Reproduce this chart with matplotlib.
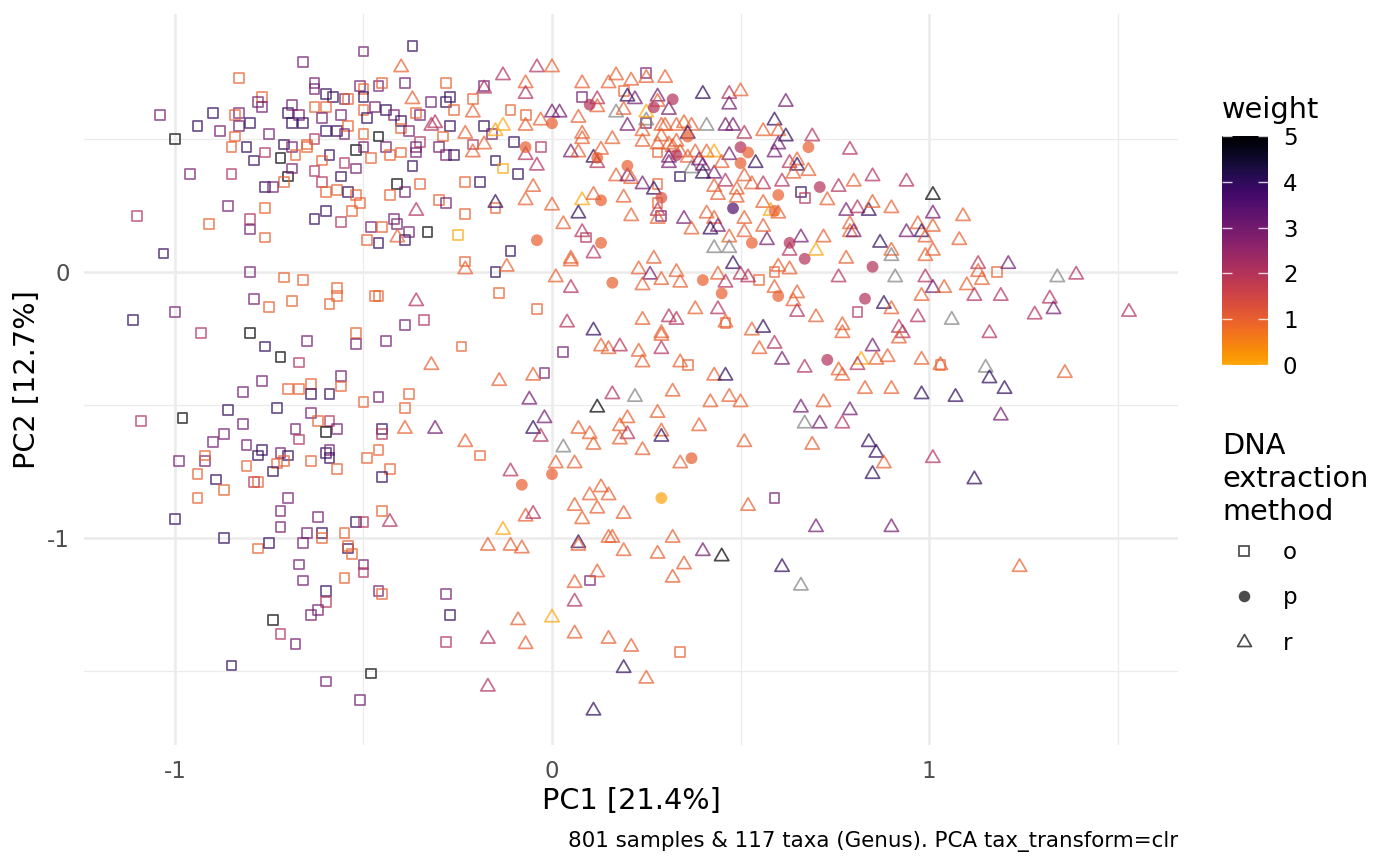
import numpy as np
import matplotlib
matplotlib.use("Agg")
import matplotlib.pyplot as plt
from matplotlib.colors import ListedColormap, Normalize
from matplotlib.cm import ScalarMappable
from matplotlib.path import Path
from matplotlib.lines import Line2D

nan = np.nan

# DNA extraction method "o" (open squares)
sq_pc1 = [
    -0.50, -0.37, -0.66, -0.83, -0.77, -0.78, -0.77, -1.04, -0.90, -0.94,
    -0.88, -0.83, -0.84, -0.83, -0.80, -0.84, -0.85, -0.81, -0.79, -0.75,
    -0.76, -0.72, -0.70, -0.71, -0.76, -0.74, -0.69, -0.69, -0.70, -0.69,
    -0.67, -0.66, -0.63, -0.63, -0.63, -0.60, -0.58, -0.55, -0.54, -0.60,
    -0.56, -0.61, -0.60, -0.57, -0.54, -0.55, -0.63, -0.65, -0.71, -0.69,
    -0.68, -0.65, -0.59, -0.61, -0.55, -0.56, -0.57, -0.54, -0.52, -0.51,
    -0.53, -0.52, -0.50, -0.48, -0.52, -0.63, -0.61, -0.60, -0.60, -0.63,
    -0.56, -0.50, -0.51, -0.50, -0.50, -0.46, -0.45, -0.50, -0.49, -0.47,
    -0.44, -0.42, -0.40, -0.39, -0.35, -0.36, -0.40, -0.38, -0.35, -0.46,
    -0.44, -0.43, -0.40, -0.37, -0.36, -0.36, -0.41, -0.39, -0.35, -0.43,
    -0.42, -0.41, -0.48, -0.45, -0.46, -0.49, -0.39, -0.38, -0.33, -0.76,
    -0.80, -0.80, -0.76, -0.86, -0.91, -0.96, -0.85, -1.10, -1.03, -1.00,
    -0.28, -0.18, -0.21, -0.27, -0.28, -0.32, -0.26, -0.11, -0.07, -0.27,
    -0.18, -0.16, -0.29, -0.21, -0.10, -0.03, -0.30, -0.28, -0.26, -0.15,
    -0.13, -0.09, -0.23, -0.19, -0.30, -0.28, -0.23, -0.15, -0.25, -0.11,
    -0.23, 0.25, 0.19, 0.08, 0.25, 0.28, 0.34, 0.28, 0.28, 0.29,
    0.09, 0.66, 0.67, -0.80, -0.71, -0.66, -0.57, -0.57, -0.59, -0.46,
    -0.47, -0.79, -0.75, -0.69, -1.11, -1.00, -0.93, -0.80, -0.76, -0.72,
    -0.67, -0.65, -0.52, -0.52, -0.44, -0.39, -0.34, -0.82, -0.77, -0.70,
    -0.67, -0.64, -0.64, -0.59, -0.56, -0.56, -0.50, -0.46, -0.38, -0.39,
    -1.09, -0.98, -0.86, -0.82, -0.73, -0.64, -0.62, -0.59, -0.60, -0.57,
    -0.68, -0.67, -0.87, -0.90, -0.45, -0.45, -0.81, -0.78, -0.77, -0.72,
    -0.70, -0.71, -0.73, -0.74, -0.81, -0.79, -0.78, -0.60, -0.59, -0.59,
    -0.57, -0.64, -0.49, -0.46, -0.43, -0.45, -0.99, -0.92, -0.92, -0.94,
    -0.89, -0.87, -0.94, -0.70, -1.00, -0.87, -0.78, -0.75, -0.72, -0.72,
    -0.66, -0.65, -0.62, -0.61, -0.61, -0.55, -0.54, -0.54, -0.53, -0.52,
    -0.50, -0.45, -0.67, -0.66, -0.60, -0.55, -0.50, -0.50, -0.46, -0.45,
    -0.60, -0.62, -0.64, -0.74, -0.72, -0.68, -0.85, -0.48, -0.60, -0.51,
    -0.15, -0.14, -0.04, -0.24, 0.03, -0.02, -0.19, 0.46, 0.36, 0.55,
    0.59, 0.59, 0.81, 1.18, 1.03, 0.10, 0.34, -0.28, -0.27, -0.28,
]
sq_pc2 = [
    0.83, 0.85, 0.79, 0.73, 0.66, 0.64, 0.62, 0.59, 0.60, 0.55,
    0.53, 0.60, 0.59, 0.55, 0.56, 0.51, 0.47, 0.47, 0.42, 0.52,
    0.45, 0.43, 0.36, 0.34, 0.32, 0.32, 0.39, 0.56, 0.60, 0.63,
    0.59, 0.56, 0.62, 0.71, 0.69, 0.67, 0.66, 0.65, 0.65, 0.62,
    0.59, 0.58, 0.53, 0.53, 0.55, 0.52, 0.50, 0.48, 0.48, 0.47,
    0.44, 0.47, 0.44, 0.42, 0.41, 0.36, 0.31, 0.30, 0.29, 0.26,
    0.23, 0.46, 0.47, 0.43, 0.39, 0.38, 0.34, 0.30, 0.23, 0.20,
    0.19, 0.52, 0.70, 0.69, 0.66, 0.70, 0.71, 0.61, 0.58, 0.62,
    0.61, 0.59, 0.57, 0.71, 0.59, 0.60, 0.54, 0.53, 0.49, 0.51,
    0.47, 0.44, 0.45, 0.40, 0.45, 0.47, 0.33, 0.30, 0.33, 0.29,
    0.20, 0.18, 0.17, 0.17, 0.11, 0.12, 0.12, 0.15, 0.15, 0.24,
    0.20, 0.16, 0.13, 0.25, 0.18, 0.37, 0.37, 0.21, 0.07, 0.50,
    0.71, 0.70, 0.65, 0.66, 0.64, 0.64, 0.61, 0.61, 0.59, 0.55,
    0.55, 0.52, 0.51, 0.48, 0.49, 0.47, 0.47, 0.44, 0.44, 0.42,
    0.39, 0.37, 0.34, 0.34, 0.27, 0.26, 0.22, 0.24, 0.14, 0.08,
    0.04, 0.75, 0.68, 0.66, 0.56, 0.45, 0.36, 0.33, 0.26, 0.21,
    0.13, 0.30, 0.28, 0.00, -0.02, -0.03, -0.06, -0.09, -0.12, -0.09,
    -0.09, -0.10, -0.13, -0.11, -0.18, -0.15, -0.23, -0.23, -0.28, -0.32,
    -0.34, -0.26, -0.23, -0.27, -0.26, -0.20, -0.18, -0.45, -0.41, -0.44,
    -0.44, -0.42, -0.46, -0.46, -0.39, -0.43, -0.49, -0.47, -0.46, -0.51,
    -0.56, -0.55, -0.52, -0.57, -0.51, -0.53, -0.56, -0.56, -0.60, -0.59,
    -0.59, -0.63, -0.61, -0.64, -0.59, -0.61, -0.65, -0.69, -0.67, -0.68,
    -0.69, -0.71, -0.72, -0.75, -0.73, -0.79, -0.79, -0.68, -0.67, -0.70,
    -0.74, -0.71, -0.70, -0.67, -0.74, -0.77, -0.71, -0.71, -0.69, -0.76,
    -0.78, -0.82, -0.85, -0.85, -0.93, -1.00, -1.04, -1.02, -0.90, -0.96,
    -1.02, -0.98, -0.92, -0.98, -1.00, -0.98, -1.04, -1.03, -1.06, -0.94,
    -0.94, -0.90, -1.10, -1.16, -1.20, -1.15, -1.10, -1.13, -1.20, -1.21,
    -1.24, -1.27, -1.29, -1.31, -1.36, -1.40, -1.48, -1.51, -1.54, -1.61,
    0.00, -0.08, -0.14, -0.28, -0.30, -0.38, -0.69, -0.19, -0.35, -0.03,
    0.00, -0.85, -0.15, 0.00, -0.35, -1.16, -1.43, -1.21, -1.29, -1.39,
]
sq_weight = [
    3, 4, 3, 1, 1, 3, 3, 3, 4, 4,
    3, 3, 1, 3, 4, 1, 1, 4, 4, 3,
    2, 5, 5, 1, 4, 3, 3, 4, 4, 3,
    3, 4, 1, 3, 3, 4, 4, 3, 1, 1,
    3, 3, 4, 4, 1, 3, 2, 1, 4, 3,
    1, 1, 4, 1, 2, 4, 1, 4, 1, 1,
    1, 5, 3, 1, 3, 2, 2, 1, 4, 4,
    2, 1, 3, 1, 4, 3, 1, 1, 4, 3,
    4, 3, 4, 3, 3, 1, 1, 3, 2, 5,
    3, 1, 1, 4, 3, 3, 5, 3, 1, 1,
    3, 3, 3, 1, 4, 1, 4, 3, 5, 1,
    2, 3, 1, 3, 1, 3, 2, 2, 4, 5,
    1, 3, 1, 4, 4, 3, 1, 1, 1, 4,
    4, 3, 1, 2, 4, 2, 3, 3, 4, 4,
    0, 4, 1, 4, 1, 3, 1, 1, 0, 4,
    1, 3, 1, 3, 3, 1, 4, 1, 1, 3,
    2, 4, 2, 3, 1, 1, 1, 1, 1, 1,
    1, 3, 1, 1, 4, 3, 2, 5, 4, 5,
    2, 3, 1, 3, 3, 3, 2, 3, 3, 1,
    1, 1, 4, 4, 3, 1, 1, 3, 1, 1,
    2, 5, 4, 3, 4, 3, 1, 2, 5, 3,
    3, 2, 3, 3, 4, 2, 3, 4, 4, 3,
    4, 1, 1, 4, 1, 2, 1, 4, 3, 4,
    1, 1, 1, 1, 1, 4, 3, 3, 1, 1,
    4, 1, 1, 3, 4, 4, 1, 4, 3, 3,
    3, 3, 3, 4, 1, 1, 4, 1, 1, 4,
    2, 1, 3, 3, 4, 1, 3, 2, 3, 1,
    2, 3, 3, 5, 2, 3, 4, 5, 3, 3,
    4, 1, 1, 1, 3, 3, 1, 1, 1, 1,
    1, 3, 2, 1, 1, 3, 1, 3, 4, 2,
]

# DNA extraction method "p" (filled circles)
ci_pc1 = [
    0.00, 0.10, -0.07, -0.04, 0.13, 0.13, 0.20, 0.27, 0.32, 0.29,
    0.36, 0.33, 0.48, 0.50, 0.50, 0.52, 0.60, 0.59, 0.53, 0.63,
    0.67, 0.16, 0.40, 0.45, 0.60, 0.37, 0.00, -0.08, 0.29, 0.85,
    0.83, 0.73, 0.68, 0.71, 0.12,
]
ci_pc2 = [
    0.56, 0.63, 0.47, 0.12, 0.11, 0.27, 0.40, 0.62, 0.65, 0.28,
    0.51, 0.44, 0.24, 0.41, 0.47, 0.45, 0.29, 0.23, 0.11, 0.11,
    0.05, -0.04, -0.03, -0.08, -0.09, -0.70, -0.76, -0.80, -0.85, 0.02,
    -0.10, -0.33, 0.47, 0.32, 0.43,
]
ci_weight = [
    1, 2, 1, 1, 1, 1, 1, 2, 2, 1.3,
    1, 2, 3.5, 1, 2, 1, 1, 1, 1, 2,
    2, 1, 1, 1, 1, 1, 1, 1, 0, 2,
    2, 2, 1, 2, 1,
]

# DNA extraction method "r" (open triangles)
tr_pc1 = [
    -0.40, -0.37, -0.32, -0.36, -0.41, -0.13, -0.04, 0.00, -0.07, -0.07,
    -0.18, -0.21, -0.31, -0.23, -0.18, -0.21, -0.13, -0.15, -0.07, -0.07,
    -0.04, -0.05, -0.07, 0.00, -0.15, -0.03, 0.00, 0.02, 0.07, 0.08,
    0.08, 0.16, 0.05, 0.07, 0.11, 0.13, 0.12, 0.17, 0.20, 0.21,
    0.24, 0.27, 0.19, 0.08, 0.11, 0.07, 0.03, 0.08, 0.11, 0.05,
    0.21, 0.28, 0.28, 0.27, 0.08, 0.15, 0.17, 0.21, 0.25, 0.30,
    0.20, 0.22, 0.19, 0.17, 0.12, 0.12, 0.28, 0.28, 0.31, 0.25,
    0.25, 0.20, 0.24, 0.29, 0.30, 0.33, 0.29, 0.24, 0.28, 0.31,
    0.33, 0.32, 0.35, 0.37, 0.41, 0.46, 0.48, 0.36, 0.38, 0.36,
    0.34, 0.31, 0.31, 0.37, 0.39, 0.40, 0.43, 0.40, 0.41, 0.43,
    0.47, 0.45, 0.51, 0.54, 0.56, 0.59, 0.60, 0.62, 0.60, 0.59,
    0.63, 0.65, 0.65, 0.64, 0.61, 0.56, 0.53, 0.51, 0.46, 0.43,
    0.49, 0.44, 0.49, 0.56, 0.58, 0.60, 0.51, 0.56, 0.51, 0.47,
    0.43, 0.41, 0.35, 0.37, 0.44, 0.42, 0.43, 0.47, 0.57, 0.63,
    0.66, 0.40, 0.47, 0.50, 0.47, 0.62, 0.48, 0.69, 0.79, 0.68,
    0.76, 0.80, 0.85, 0.94, 1.01, 1.09, 1.08, 0.73, 0.78, 0.81,
    0.84, 0.85, 0.90, 1.01, 0.97, 0.94, 0.98, 1.01, 0.99, 0.79,
    0.79, 0.80, 0.72, 0.70, 0.87, 0.90, 0.90, 0.99, 1.01, 0.78,
    1.13, 1.21, -0.23, -0.12, 0.05, 0.01, 0.05, 0.23, 0.26, 0.24,
    0.29, 0.33, 0.34, 0.44, 0.46, 0.50, 0.52, 0.60, 0.63, 0.59,
    0.65, 0.64, 0.65, 0.04, 0.11, 0.13, 0.15, 0.18, 0.24, 0.31,
    0.33, 0.29, 0.29, 0.29, 0.23, 0.24, 0.38, 0.44, 0.46, 0.53,
    0.56, 0.55, 0.59, 0.61, 0.67, 0.34, 0.43, 0.46, 0.32, 0.47,
    0.42, 0.50, 0.66, 0.67, -0.32, -0.14, -0.05, -0.06, -0.31, -0.02,
    -0.05, -0.03, -0.23, -0.11, 0.03, 0.01, 0.06, 0.12, 0.16, 0.22,
    0.20, 0.18, 0.20, 0.18, 0.07, 0.10, 0.11, 0.28, 0.29, 0.29,
    0.24, 0.39, 0.51, 0.34, 0.10, 0.13, 0.15, -0.36, -0.39, 0.76,
    0.91, 0.99, 1.01, 1.04, 1.10, 1.13, 1.14, 1.34, 1.39, 0.98,
    0.97, 0.88, 0.90, 1.12, 1.19, 1.32, 1.33, 1.28, 1.53, 1.06,
    1.16, 0.70, 0.77, 0.77, 0.92, 0.93, 0.92, 0.85, 0.82, 0.86,
    0.89, 0.81, 0.76, 0.77, 0.98, 1.03, 1.15, 1.16, 1.20, 1.36,
    0.83, 0.90, 0.98, 1.07, 0.72, 0.79, 0.71, 0.77, 1.19, 0.69,
    0.84, 0.86, 0.88, 0.85, 1.01, 1.12, 0.06, 0.12, 0.08, 0.19,
    -0.07, -0.05, -0.13, -0.17, -0.11, -0.08, 0.07, 0.07, 0.15, 0.16,
    0.19, 0.28, 0.32, 0.35, 0.32, 0.40, 0.45, 0.52, 0.61, 0.66,
    0.12, 0.06, 0.06, 0.00, -0.09, -0.17, -0.07, 0.06, 0.15, 0.21,
    0.19, 0.25, -0.17, 0.11, 0.70, 0.90, 1.24, -0.43,
]
tr_pc2 = [
    0.77, 0.65, 0.55, 0.23, 0.13, 0.74, 0.77, 0.77, 0.71, 0.67,
    0.69, 0.60, 0.56, 0.52, 0.48, 0.45, 0.55, 0.53, 0.55, 0.44,
    0.40, 0.32, 0.27, 0.25, 0.26, 0.57, 0.60, 0.60, 0.58, 0.52,
    0.50, 0.50, 0.45, 0.45, 0.43, 0.46, 0.41, 0.36, 0.36, 0.35,
    0.33, 0.31, 0.28, 0.27, 0.29, 0.22, 0.18, 0.15, 0.07, 0.05,
    0.21, 0.23, 0.20, 0.05, 0.71, 0.71, 0.74, 0.72, 0.73, 0.73,
    0.66, 0.65, 0.61, 0.60, 0.65, 0.62, 0.66, 0.64, 0.61, 0.57,
    0.60, 0.55, 0.53, 0.55, 0.55, 0.55, 0.51, 0.49, 0.48, 0.48,
    0.49, 0.47, 0.56, 0.55, 0.55, 0.55, 0.55, 0.52, 0.45, 0.43,
    0.45, 0.43, 0.41, 0.39, 0.42, 0.40, 0.37, 0.37, 0.45, 0.45,
    0.44, 0.41, 0.52, 0.41, 0.53, 0.57, 0.53, 0.51, 0.48, 0.45,
    0.41, 0.42, 0.40, 0.37, 0.34, 0.33, 0.33, 0.36, 0.34, 0.32,
    0.31, 0.29, 0.28, 0.26, 0.23, 0.22, 0.20, 0.17, 0.15, 0.13,
    0.20, 0.22, 0.20, 0.16, 0.17, 0.16, 0.09, 0.09, 0.12, 0.08,
    0.13, 0.67, 0.67, 0.68, 0.63, 0.64, 0.03, 0.51, 0.46, 0.38,
    0.32, 0.34, 0.36, 0.34, 0.29, 0.21, 0.12, 0.27, 0.23, 0.24,
    0.23, 0.26, 0.24, 0.22, 0.18, 0.15, 0.15, 0.17, 0.13, 0.18,
    0.15, 0.15, 0.13, 0.08, 0.11, 0.08, 0.06, 0.06, 0.08, 0.05,
    0.03, 0.03, 0.01, 0.02, 0.04, -0.02, -0.06, 0.01, -0.01, -0.05,
    -0.03, 0.00, -0.04, -0.01, -0.04, -0.01, -0.02, 0.02, 0.01, -0.06,
    -0.08, -0.11, -0.15, -0.19, -0.22, -0.28, -0.29, -0.28, -0.18, -0.17,
    -0.18, -0.23, -0.24, -0.29, -0.30, -0.34, -0.14, -0.14, -0.19, -0.22,
    -0.21, -0.29, -0.27, -0.33, -0.36, -0.34, -0.39, -0.39, -0.45, -0.47,
    -0.49, -0.49, -0.51, -0.57, -0.35, -0.41, -0.39, -0.48, -0.59, -0.55,
    -0.59, -0.62, -0.64, -0.75, -0.66, -0.72, -0.72, -0.51, -0.46, -0.47,
    -0.55, -0.58, -0.61, -0.63, -0.59, -0.61, -0.65, -0.53, -0.60, -0.62,
    -0.67, -0.58, -0.64, -0.72, -0.84, -0.81, -0.84, -0.11, -0.59, -0.02,
    -0.02, -0.02, -0.06, -0.06, -0.05, 0.00, -0.03, -0.02, -0.01, -0.09,
    -0.17, -0.12, -0.14, -0.09, -0.09, -0.10, -0.14, -0.16, -0.15, -0.18,
    -0.23, -0.17, -0.20, -0.23, -0.21, -0.23, -0.25, -0.28, -0.33, -0.33,
    -0.32, -0.35, -0.37, -0.39, -0.33, -0.35, -0.36, -0.40, -0.44, -0.38,
    -0.44, -0.44, -0.46, -0.47, -0.49, -0.52, -0.57, -0.57, -0.54, -0.65,
    -0.64, -0.68, -0.72, -0.76, -0.70, -0.78, -0.88, -0.89, -0.93, -0.91,
    -0.92, -0.91, -0.97, -1.03, -1.03, -1.04, -1.02, -1.03, -1.00, -1.00,
    -1.05, -1.06, -1.00, -1.10, -1.15, -1.05, -1.07, -0.88, -1.11, -1.18,
    -1.13, -1.17, -1.24, -1.30, -1.31, -1.38, -1.40, -1.36, -1.38, -1.41,
    -1.49, -1.53, -1.56, -1.65, -0.96, -0.96, -1.11, -0.94,
]
tr_weight = [
    1, 1, 2, 2, 1, 2, 2, 1, 1, 2,
    2, 1, 2, 1, 1, 1, 0, 0, 1, 2,
    2, 1, 1, 1, 4, 1, 3, 3, 1, 1,
    1, 1, 3, 1, 4, 1, 2, 1, 3, 1,
    3, 4, 1, 0, 1, 4, 1, 2, 2, 1,
    1, 2, 1, 1, 1, 1, 1, 1, 1, 1,
    4, 3, 1, nan, 2, 1, 3, 1, 3, nan,
    0, 3, 1, 1, 1, 1, 1, 1, 1, 1,
    1, 1, 1, 1, nan, 3, 3, 4, 1, 1,
    1, 3, 3, nan, 3, 3, 3, 4, 1, 0,
    3, 1, 2, 4, 1, 4, 1, 4, 3, 3,
    2, 1, 4, 1, 2, 2, 1, 1, 2, 1,
    1, 1, 1, 1, 0, 1, 1, 1, 1, 1,
    1, 1, 3, 1, 3, 4, nan, nan, 3, 2,
    3, 4, 2, 1, 3, 3, 4, 2, 2, 1,
    2, 1, 2, 2, 5, 1, 1, 1, 3, 2,
    4, 1, 1, 3, 1, 3, 4, 1, 1, 1,
    1, 3, 1, 0, 4, 1, nan, 1, 1, 1,
    2, 3, 1, 1, 1, 1, 2, 1, 3, 1,
    1, 1, 1, 1, 2, 2, 2, 1, 1, 1,
    1, 1, 2, 2, 4, 1, 1, 2, 1, 2,
    2, 1, 1, 2, 1, 1, 1, 2, 1, 1,
    4, 1, 2, 3, 2, 1, 1, 4, 1, 1,
    1, 1, 3, nan, 1, 1, 1, 3, 3, 3,
    4, 2, 1, 2, nan, 1, 1, 5, 2, nan,
    1, 1, 2, 1, 1, 1, 1, 1, 1, 4,
    1, 1, 1, 1, 1, 1, 1, 2, 1, 2,
    nan, 2, 3, 1, 1, 1, 1, nan, 2, 1,
    2, 4, 1, 2, 2, 2, 3, 2, 2, nan,
    2, 1, 1, 1, 2, 2, 1, 3, 0, 1,
    1, 2, 1, 1, 1, 1, nan, 4, 4, 1,
    1, 1, 4, 4, 1, 3, 3, 2, 3, 1,
    4, 4, 1, 4, 2, 4, 1, 1, 1, 1,
    1, 2, 0, 1, 1, 1, 4, 1, 1, 1,
    1, 1, 1, 1, 1, 3, 5, 1, 4, nan,
    1, 1, 2, 0, 1, 2, 1, 1, 1, 1,
    4, 1, 2, 4, 3, 3, 1, 2,
]

method_labels = ["o", "p", "r"]
weight_ticks = [0, 1, 2, 3, 4, 5]
caption = "801 samples & 117 taxa (Genus). PCA tax_transform=clr"

plt.rcParams["font.family"] = "DejaVu Sans"
plt.rcParams["axes.unicode_minus"] = False

# inferno, cut at 0.8 and reversed (0 = orange, 5 = black)
cmap = ListedColormap(plt.cm.inferno(np.linspace(0.8, 0.0, 256)))
norm = Normalize(0, 5)
alpha = 0.7

# ggplot-like triangle, centred on its centroid
tri = Path([(-0.5, -0.289), (0.5, -0.289), (0.0, 0.577), (-0.5, -0.289)],
           [Path.MOVETO, Path.LINETO, Path.LINETO, Path.CLOSEPOLY])


def point_colours(w):
    w = np.asarray(w, dtype=float)
    cols = cmap(norm(np.nan_to_num(w)))
    cols[np.isnan(w)] = (0.5, 0.5, 0.5, 1.0)
    cols[:, 3] = alpha
    return cols


fig = plt.figure(figsize=(14, 8.65), dpi=100)
ax = fig.add_axes([84 / 1400, 120 / 865, 1094 / 1400, 731 / 865])

ax.scatter(sq_pc1, sq_pc2, marker="s", s=50, facecolors="none",
           edgecolors=point_colours(sq_weight), linewidths=1.25)
ax.scatter(tr_pc1, tr_pc2, marker=tri, s=140, facecolors="none",
           edgecolors=point_colours(tr_weight), linewidths=1.25)
ax.scatter(ci_pc1, ci_pc2, marker="o", s=72, c=point_colours(ci_weight),
           linewidths=0)

ax.set_xlim(-1.241, 1.66)
ax.set_ylim(-1.779, 0.971)
ax.set_xticks([-1, 0, 1])
ax.set_xticklabels(["-1", "0", "1"])
ax.set_xticks([-0.5, 0.5, 1.5], minor=True)
ax.set_yticks([-1, 0])
ax.set_yticklabels(["-1", "0"])
ax.set_yticks([-1.5, -0.5, 0.5], minor=True)
ax.grid(which="major", color="#EBEBEB", linewidth=1.8)
ax.grid(which="minor", color="#EBEBEB", linewidth=0.9)
ax.set_axisbelow(True)
for sp in ax.spines.values():
    sp.set_visible(False)
ax.tick_params(which="both", length=0)
ax.tick_params(axis="x", pad=11, labelsize=16.5, labelcolor="#4D4D4D")
ax.tick_params(axis="y", pad=10, labelsize=16.5, labelcolor="#4D4D4D")

ax.set_xlabel("PC1 [21.4%]", fontsize=20.7, va="center")
ax.xaxis.set_label_coords(0.5, -0.0766)
ax.set_ylabel("PC2 [12.7%]", fontsize=20.7, va="center", ha="center")
ax.yaxis.set_label_coords(-0.0521, 0.5)

fig.text(1178 / 1400, 1 - 842 / 865, caption, ha="right", va="center",
         fontsize=15.4)

# colour bar legend
fig.text(1222 / 1400, 1 - 118 / 865, "weight", fontsize=20.7,
         ha="left", va="baseline")
cax = fig.add_axes([1222 / 1400, 500 / 865, 46 / 1400, 229 / 865])
cb = fig.colorbar(ScalarMappable(norm=norm, cmap=cmap), cax=cax)
cb.outline.set_visible(False)
cb.set_ticks(weight_ticks)
cax.tick_params(direction="in", length=7, width=1, color=(1, 1, 1, 0.8),
                left=True, right=True, labelleft=False, labelright=True,
                labelsize=16.5, pad=10.8)

# shape legend
fig.text(1222 / 1400, 1 - 432 / 865, "DNA\nextraction\nmethod",
         fontsize=20.7, ha="left", va="top", linespacing=1.22)
key_col = (0, 0, 0, 0.7)
handles = [
    Line2D([], [], ls="none", marker="s", ms=7, mfc="none", mec=key_col, mew=1.25),
    Line2D([], [], ls="none", marker="o", ms=8.3, mfc=key_col, mec="none"),
    Line2D([], [], ls="none", marker=tri, ms=11.5, mfc="none", mec=key_col, mew=1.25),
]
fig.legend(handles, method_labels, loc="upper left",
           bbox_to_anchor=(1233 / 1400, 1 - 541 / 865), frameon=False,
           fontsize=16.5, handlelength=1.0, handletextpad=1.16,
           labelspacing=0.98, borderpad=0, borderaxespad=0)

fig.savefig("out.png", dpi=100, facecolor="white")
